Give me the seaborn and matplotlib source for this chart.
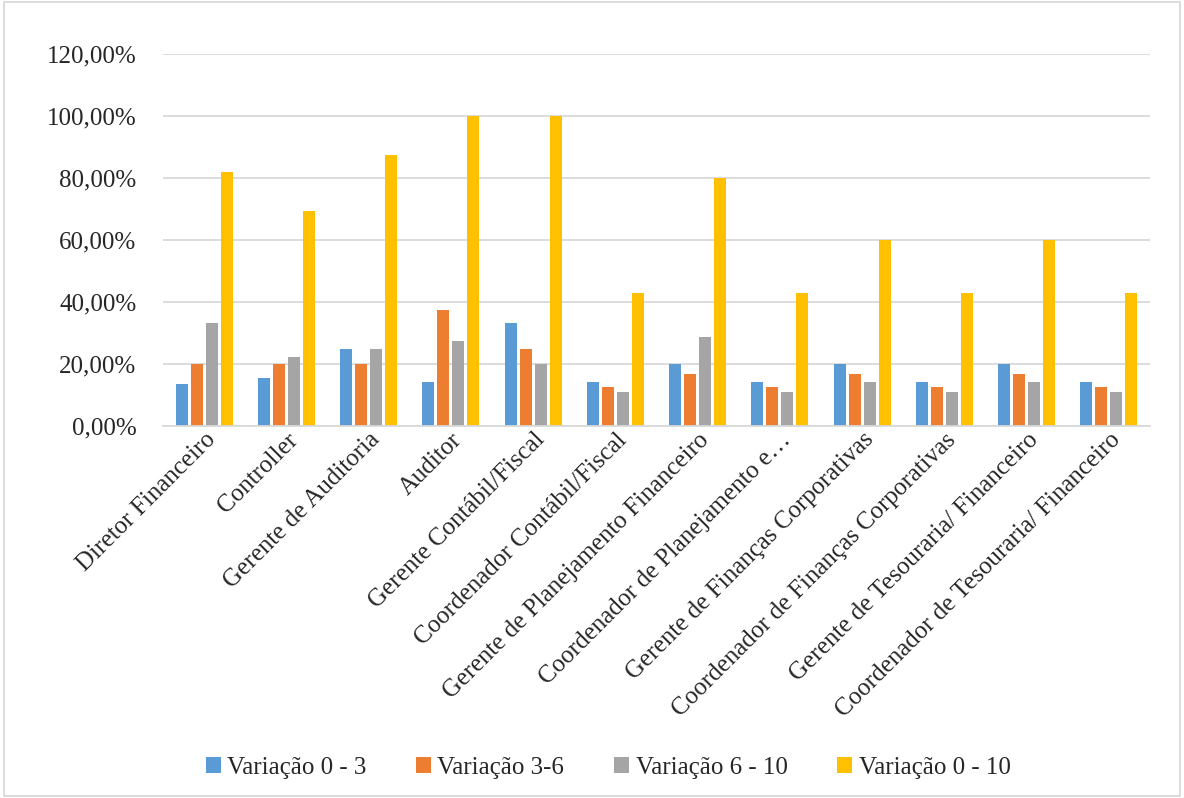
import matplotlib
matplotlib.use("Agg")
import matplotlib.pyplot as plt
import seaborn as sns
import pandas as pd
from matplotlib.ticker import FuncFormatter

cargos = [
    "Diretor Financeiro",
    "Controller",
    "Gerente de Auditoria",
    "Auditor",
    "Gerente Contábil/Fiscal",
    "Coordenador Contábil/Fiscal",
    "Gerente de Planejamento Financeiro",
    "Coordenador de Planejamento e…",
    "Gerente de Finanças Corporativas",
    "Coordenador de Finanças Corporativas",
    "Gerente de Tesouraria/ Financeiro",
    "Coordenador de Tesouraria/ Financeiro",
]
series = ["Variação 0 - 3", "Variação 3-6", "Variação 6 - 10", "Variação 0 - 10"]
var_0_3 = [13.64, 15.38, 25.00, 14.29, 33.33, 14.29, 20.00, 14.29, 20.00, 14.29, 20.00, 14.29]
var_3_6 = [20.00, 20.00, 20.00, 37.50, 25.00, 12.50, 16.67, 12.50, 16.67, 12.50, 16.67, 12.50]
var_6_10 = [33.33, 22.22, 25.00, 27.27, 20.00, 11.11, 28.57, 11.11, 14.29, 11.11, 14.29, 11.11]
var_0_10 = [81.82, 69.23, 87.50, 100.00, 100.00, 42.86, 80.00, 42.86, 60.00, 42.86, 60.00, 42.86]
colors = ["#5B9BD5", "#ED7D31", "#A5A5A5", "#FFC000"]

rows = []
for s, vals in zip(series, [var_0_3, var_3_6, var_6_10, var_0_10]):
    for c, v in zip(cargos, vals):
        rows.append({"Cargo": c, "Série": s, "Valor": v})
df = pd.DataFrame(rows)

sns.set_theme(style="white")
SERIF = ["Liberation Serif", "DejaVu Serif"]
plt.rcParams["font.family"] = SERIF

fig = plt.figure(figsize=(11.84, 7.98), dpi=100)
ax = fig.add_axes([163 / 1184, 1 - 426 / 798, (1150 - 163) / 1184, (426 - 54) / 798])

sns.barplot(data=df, x="Cargo", y="Valor", hue="Série", hue_order=series,
            order=cargos, palette=colors, width=0.73, gap=0.2,
            saturation=1, linewidth=0, ax=ax, legend=True)

ax.set_ylim(0, 120)
ax.set_yticks(range(0, 121, 20))
ax.yaxis.set_major_formatter(FuncFormatter(lambda v, p: f"{v:.2f}".replace(".", ",") + "%"))
ax.grid(axis="y", color="#D9D9D9", linewidth=1.3)
ax.set_axisbelow(True)
for sp in ["top", "right", "left"]:
    ax.spines[sp].set_visible(False)
ax.spines["bottom"].set_color("#D9D9D9")
ax.spines["bottom"].set_linewidth(1.3)
ax.set_xlabel("")
ax.set_ylabel("")
ax.tick_params(axis="y", labelsize=18, length=0, pad=19)
ax.tick_params(axis="x", labelsize=18, length=0, pad=2)
ax.set_xlim(-0.5, len(cargos) - 0.5)
for t in ax.get_xticklabels() + ax.get_yticklabels():
    t.set_fontfamily(SERIF)
plt.setp(ax.get_xticklabels(), rotation=45, ha="right", rotation_mode="anchor")

ax.legend_.remove()
handles, labels = ax.get_legend_handles_labels()
leg = fig.legend(handles, labels, loc="center", bbox_to_anchor=(608 / 1184, 1 - 768 / 798),
                 ncol=4, frameon=False, fontsize=18, handlelength=0.6, handleheight=0.6,
                 handletextpad=0.25, columnspacing=2.0)
for t in leg.get_texts():
    t.set_fontfamily(SERIF)
    t.set_fontsize(18)

# outer chart border
fig.patches.append(plt.Rectangle((0.003, 0.003), 0.994, 0.994, transform=fig.transFigure,
                                 fill=False, edgecolor="#D9D9D9", linewidth=1.3))

fig.savefig("out.png", dpi=100)
